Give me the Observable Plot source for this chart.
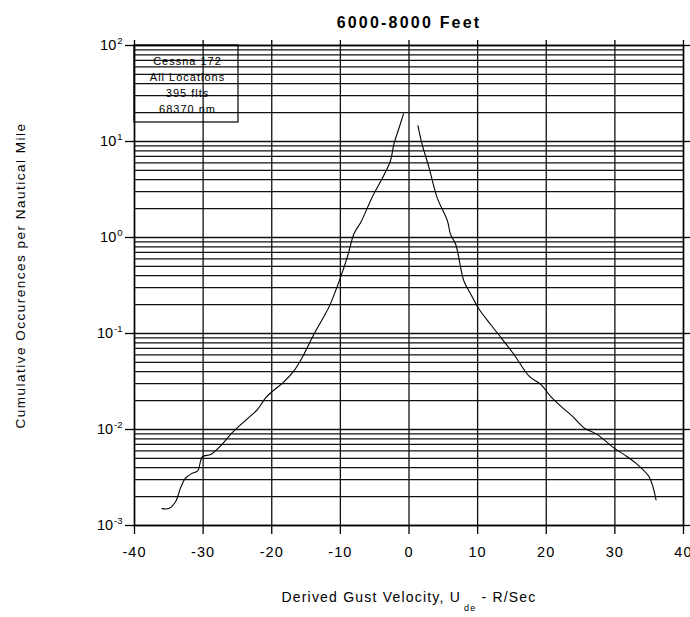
<!DOCTYPE html>
<html>
<head>
<meta charset="utf-8">
<script src="https://cdn.jsdelivr.net/npm/d3@7"></script>
<script src="https://cdn.jsdelivr.net/npm/@observablehq/plot@0.6"></script>
<style>
  html, body { margin: 0; padding: 0; background: #fff; }
  #chart { width: 690px; height: 617px; }
</style>
</head>
<body>
<div id="chart"></div>
<script>
// ---- Data ----
const titleText = "6000-8000 Feet";
const xTitle = "Derived Gust Velocity, U";
const xTitleSub = "de";
const xTitleTail = " - R/Sec";
const yTitle = "Cumulative Occurences per Nautical Mile";
const legendLines = ["Cessna 172", "All Locations", "395 flts", "68370 nm"];

const xTicks = [-40, -30, -20, -10, 0, 10, 20, 30, 40];
const yExponents = [-3, -2, -1, 0, 1, 2];
const mantissas = [1, 2, 3, 4, 5, 6, 7, 8, 9];

// negative gusts (left branch)
const leftU = [-36.0, -35.0, -34.0, -33.3, -32.6, -31.6, -30.8, -30.1, -28.9, -27.5, -25.8, -24.8, -23.4, -22.1, -20.9, -19.9, -18.3, -16.8, -15.6, -14.6, -13.6, -12.4, -11.5, -10.0, -9.0, -8.0, -7.0, -5.4, -3.7, -2.7, -2.2, -1.5, -0.8];
const leftV = [0.0015, 0.0015, 0.00178, 0.00245, 0.0031, 0.0035, 0.0037, 0.0052, 0.0055, 0.0067, 0.0092, 0.0108, 0.0132, 0.0161, 0.0213, 0.025, 0.031, 0.0405, 0.0557, 0.077, 0.106, 0.15, 0.2, 0.38, 0.62, 1.1, 1.45, 2.6, 4.4, 6.3, 9.4, 13.5, 19.4];

// positive gusts (right branch)
const rightU = [1.3, 1.9, 2.9, 4.1, 5.6, 6.05, 6.8, 8.0, 9.0, 10.2, 11.9, 13.6, 15.3, 17.5, 19.2, 20.6, 22.1, 23.8, 25.5, 27.4, 29.9, 31.8, 33.3, 35.0, 36.0];
const rightV = [14.6, 9.4, 5.4, 2.6, 1.49, 1.08, 0.85, 0.352, 0.257, 0.18, 0.124, 0.087, 0.0605, 0.0359, 0.0295, 0.0223, 0.0175, 0.0138, 0.0104, 0.0089, 0.0064, 0.0052, 0.0043, 0.0032, 0.00185];

// ---- Derived tables ----
const yDecades = yExponents.map(e => Math.pow(10, e));
const yGrid = yExponents.slice(0, -1)
  .flatMap(e => mantissas.map(m => m * Math.pow(10, e)))
  .concat([Math.pow(10, yExponents[yExponents.length - 1])]);
const expOf = v => Math.round(Math.log10(v));

const curves = [
  ...leftU.map((u, i) => ({u, v: leftV[i], side: "neg"})),
  ...rightU.map((u, i) => ({u, v: rightV[i], side: "pos"}))
];

const font = "'Liberation Sans', Arial, Helvetica, sans-serif";

const chart = Plot.plot({
  width: 690,
  height: 617,
  marginLeft: 134,
  marginRight: 7,
  marginTop: 45,
  marginBottom: 92,
  style: {fontFamily: font, fontSize: "14.5px", color: "#000", background: "#fff", overflow: "visible"},
  x: {domain: [-40, 40]},
  y: {type: "log", domain: [1e-3, 1e2]},
  marks: [
    Plot.ruleY(yGrid, {stroke: "#111", strokeWidth: 1.3}),
    Plot.ruleX(xTicks, {stroke: "#111", strokeWidth: 1.3}),
    Plot.frame({stroke: "#000", strokeWidth: 1.5}),
    Plot.axisX({anchor: "bottom", ticks: xTicks, tickSize: 9, tickPadding: 12, label: null, tickFormat: d => String(d), strokeWidth: 1.3}),
    Plot.axisX({anchor: "top", ticks: xTicks, tickSize: 6, label: null, tickFormat: () => "", strokeWidth: 1.3}),
    Plot.axisY({anchor: "left", ticks: yDecades, tickSize: 9, tickPadding: 3, label: null, tickFormat: d => "10^" + expOf(d), strokeWidth: 1.3}),
    Plot.axisY({anchor: "right", ticks: yDecades, tickSize: 7, label: null, tickFormat: () => "", strokeWidth: 1.3}),
    Plot.line(curves, {x: "u", y: "v", z: "side", stroke: "#000", strokeWidth: 1.1, curve: "catmull-rom"}),
    Plot.text([titleText], {frameAnchor: "top", dy: -29, fontSize: 16, fontWeight: "bold", textAnchor: "middle"}),
    Plot.text([yTitle], {frameAnchor: "left", dx: -114, dy: -10, rotate: -90, fontSize: 13.5, textAnchor: "middle"}),
    Plot.text([xTitle], {frameAnchor: "bottom", dy: 76, fontSize: 14, textAnchor: "middle"}),
    Plot.text([legendLines.join("\n")], {frameAnchor: "top-left", dx: 53, dy: 38, fontSize: 11, lineHeight: 1.45, textAnchor: "middle", lineAnchor: "middle"})
  ]
});

document.getElementById("chart").appendChild(chart);

const svg = d3.select(chart);
const textGroups = svg.selectAll("g[aria-label='text']").nodes();
// title
d3.select(textGroups[0]).style("letter-spacing", "2.2px");
// y title
d3.select(textGroups[1]).style("letter-spacing", "1.5px");
// x title with subscript
const xt = d3.select(textGroups[2]).style("letter-spacing", "1.2px").select("text");
xt.text(null);
xt.append("tspan").text(xTitle);
xt.append("tspan").attr("dx", 3).attr("dy", 9).attr("font-size", 9).text(xTitleSub);
xt.append("tspan").attr("dy", -9).text(xTitleTail);
// legend
d3.select(textGroups[3]).style("letter-spacing", "1px");

// tick labels letter spacing
svg.selectAll("g[aria-label='x-axis tick label']").style("letter-spacing", "1.1px");
// superscript exponents on the y tick labels
svg.selectAll("g[aria-label='y-axis tick label'] text").each(function() {
  const t = d3.select(this);
  const s = t.text();
  if (!s.startsWith("10^")) return;
  const e = s.slice(3);
  t.text(null);
  t.append("tspan").text("10");
  t.append("tspan").attr("dx", 1).attr("dy", -6).attr("font-size", 9.5).text(e);
});

// legend box in the frame's top-left corner
svg.append("rect")
  .attr("x", 134).attr("y", 45)
  .attr("width", 104).attr("height", 77)
  .attr("fill", "none").attr("stroke", "#000").attr("stroke-width", 1.2);
</script>
</body>
</html>
